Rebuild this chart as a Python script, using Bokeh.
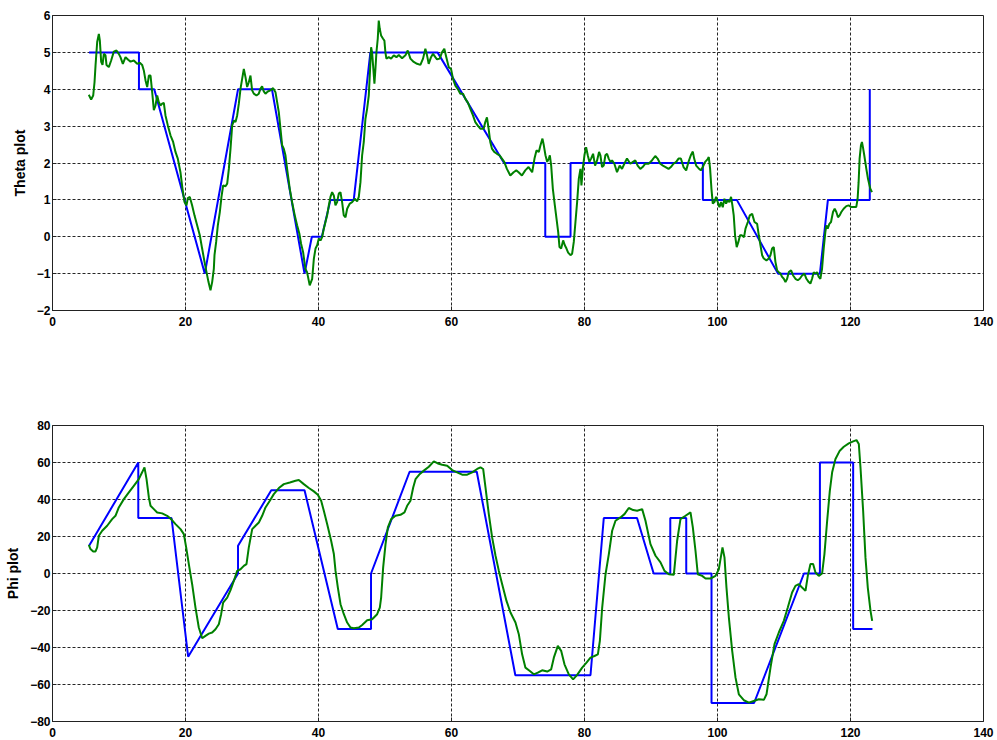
from bokeh.plotting import figure
from bokeh.layouts import column
from bokeh.models import Range1d, FixedTicker
from bokeh.embed import file_html
from bokeh.resources import INLINE

# ---------------- data ----------------
x_ticks = [0, 20, 40, 60, 80, 100, 120, 140]
theta_ticks = [-2, -1, 0, 1, 2, 3, 4, 5, 6]
phi_ticks = [-80, -60, -40, -20, 0, 20, 40, 60, 80]

# Theta reference (blue)
theta_ref_x = [5.5, 13.0, 13.0, 15.3, 22.9, 27.9, 33.0, 37.9, 39.0, 40.5, 41.8, 45.3, 47.8,
               57.9, 67.9, 74.1, 74.1, 77.9, 77.9, 97.8, 97.8, 102.9, 109.1, 115.4, 116.6,
               122.9, 122.9]
theta_ref_y = [5, 5, 4, 4, -1, 4, 4, -1, 0, 0, 1, 1, 5,
               5, 2, 2, 0, 0, 2, 2, 1, 1, -1, -1, 1,
               1, 4]

# Theta measured (green)
theta_meas_x = [5.46, 5.81, 6.12, 6.32, 6.47, 6.72, 6.97, 7.12, 7.32, 7.52, 7.72, 7.97, 8.12, 8.47,
                8.82, 9.22, 9.62, 9.97, 10.22, 10.58, 10.98, 11.38, 11.73, 12.23, 12.73, 13.13,
                13.48, 13.73, 13.99, 14.24, 14.49, 14.74, 14.99, 15.24, 15.49, 15.74, 15.99,
                16.24, 16.49, 16.74, 16.99, 17.34, 17.74, 18.14, 18.49, 18.84, 19.24, 19.55,
                19.85, 20.15, 20.35, 20.65, 21.0, 21.35, 21.75, 22.15, 22.5, 22.86, 23.16, 23.46,
                23.76, 24.01, 24.26, 24.36, 24.61, 24.86, 25.16, 25.41, 25.66, 26.02, 26.27,
                26.52, 26.77, 27.02, 27.27, 27.52, 27.77, 28.02, 28.27, 28.52, 28.77, 29.02,
                29.27, 29.52, 29.77, 30.02, 30.27, 30.67, 31.02, 31.27, 31.52, 31.77, 32.02,
                32.37, 32.78, 33.18, 33.53, 33.78, 34.03, 34.28, 34.53, 34.78, 35.03, 35.28,
                35.68, 36.03, 36.43, 36.78, 37.13, 37.38, 37.68, 38.03, 38.28, 38.68, 39.05,
                39.3, 39.55, 39.8, 40.05, 40.3, 40.55, 40.8, 41.05, 41.3, 41.55, 41.8, 42.05,
                42.3, 42.55, 42.8, 43.05, 43.3, 43.55, 43.8, 44.06, 44.31, 44.71, 45.06, 45.46,
                45.81, 46.06, 46.31, 46.56, 46.81, 47.06, 47.31, 47.56, 47.71, 47.91, 48.06,
                48.21, 48.41, 48.56, 48.71, 48.91, 49.06, 49.21, 49.41, 49.71, 49.91, 50.06,
                50.21, 50.56, 50.92, 51.32, 51.72, 52.07, 52.57, 53.07, 53.42, 53.82, 54.32,
                54.82, 55.32, 55.72, 56.07, 56.32, 56.57, 56.92, 57.22, 57.57, 57.82, 58.22,
                58.57, 58.92, 59.22, 59.58, 59.93, 60.23, 60.58, 60.93, 61.33, 61.73, 62.08,
                62.48, 62.83, 63.23, 63.58, 63.93, 64.33, 64.83, 65.08, 65.33, 65.58, 65.83,
                66.08, 66.43, 66.83, 67.23, 67.58, 67.93, 68.33, 68.84, 69.34, 69.74, 70.09,
                70.59, 71.09, 71.59, 72.13, 72.48, 72.78, 73.13, 73.38, 73.68, 73.88, 74.13,
                74.39, 74.64, 74.79, 74.99, 75.24, 75.54, 75.79, 76.04, 76.24, 76.49, 76.79,
                77.04, 77.29, 77.54, 77.89, 78.14, 78.39, 78.64, 78.89, 79.14, 79.39, 79.54,
                79.74, 79.99, 80.24, 80.49, 80.74, 80.99, 81.29, 81.59, 81.89, 82.19, 82.39,
                82.64, 82.89, 83.14, 83.39, 83.64, 83.89, 84.14, 84.49, 84.89, 85.29, 85.64,
                85.99, 86.39, 86.89, 87.29, 87.64, 87.99, 88.39, 88.74, 89.14, 89.64, 90.14,
                90.64, 90.99, 91.39, 91.79, 92.19, 92.64, 92.99, 93.39, 93.79, 94.14, 94.49,
                94.89, 95.29, 95.64, 95.99, 96.29, 96.49, 96.79, 97.14, 97.49, 97.79, 98.14,
                98.49, 98.69, 98.89, 99.09, 99.29, 99.54, 99.79, 100.04, 100.29, 100.54, 100.79,
                101.04, 101.29, 101.54, 101.79, 102.04, 102.24, 102.44, 102.64, 102.89, 103.14,
                103.39, 103.64, 103.99, 104.21, 104.56, 104.86, 105.21, 105.56, 105.96, 106.21,
                106.46, 106.71, 106.96, 107.36, 107.71, 107.96, 108.21, 108.46, 108.71, 108.96,
                109.21, 109.47, 109.72, 109.97, 110.22, 110.47, 110.72, 111.07, 111.37, 111.72,
                112.07, 112.37, 112.72, 113.07, 113.37, 113.72, 113.97, 114.22, 114.47, 114.72,
                114.97, 115.22, 115.47, 115.72, 115.97, 116.22, 116.37, 116.57, 116.82, 117.07,
                117.37, 117.62, 117.87, 118.12, 118.37, 118.62, 118.97, 119.37, 119.72, 120.07,
                120.47, 120.87, 121.07, 121.22, 121.37, 121.57, 121.72, 121.87, 122.07, 122.38,
                122.63, 122.98, 123.23]
theta_meas_y = [3.85, 3.72, 3.83, 4.19, 4.64, 5.28, 5.5, 5.32, 4.74, 4.66, 4.96, 4.92, 4.66, 4.6,
                4.78, 5.02, 5.05, 4.96, 4.87, 4.69, 4.87, 4.8, 4.75, 4.78, 4.69, 4.72,
                4.66, 4.51, 4.24, 4.06, 4.37, 4.37, 3.92, 3.43, 3.56, 3.83, 3.65,
                3.56, 3.61, 3.63, 3.29, 3.02, 2.75, 2.57, 2.3, 2.12, 1.75, 1.3,
                0.94, 0.85, 1.05, 1.08, 0.85, 0.58, 0.31, 0.04, -0.32, -0.68, -0.96, -1.23,
                -1.45, -1.23, -0.87, -0.5, -0.14, 0.31, 0.67, 1.08, 1.39, 1.37, 1.44,
                1.84, 2.39, 3.02, 3.15, 3.11, 3.29, 3.61, 4.01, 4.28, 4.55, 4.33,
                4.06, 4.19, 4.37, 3.97, 3.88, 3.83, 3.88, 4.01, 4.08, 3.94, 3.88,
                3.94, 3.97, 4.03, 3.92, 3.65, 3.38, 2.93, 2.48, 2.39, 2.21, 1.84,
                1.3, 0.94, 0.58, 0.31, 0.08, -0.19, -0.41, -0.87, -0.96, -1.32, -1.14,
                -0.6, -0.32, -0.23, -0.05, -0.1, -0.01, 0.22, 0.4, 0.58, 0.85, 1.08, 1.21,
                1.12, 0.85, 0.94, 1.17, 1.21, 0.94, 0.58, 0.53, 0.76, 0.9, 0.94, 1.03,
                0.96, 1.08, 1.48, 2.21, 2.57, 3.2, 3.47, 3.83, 4.37, 5.14, 5.0,
                4.64, 4.15, 4.55, 5.0, 5.37, 5.86, 5.64, 5.46, 5.37, 5.32, 5.0,
                4.83, 4.87, 4.83, 4.92, 4.87, 4.93, 4.84, 4.92, 5.05, 4.83, 4.74,
                4.69, 4.66, 4.83, 5.1, 4.92, 4.69, 4.87, 4.96, 4.87, 4.81, 4.83,
                5.0, 5.1, 4.87, 4.6, 4.55, 4.28, 4.1, 4.01, 3.88, 3.88, 3.74,
                3.63, 3.47, 3.29, 3.11, 3.02, 2.93, 2.93, 3.11, 3.24, 2.93, 2.57,
                2.39, 2.3, 2.25, 2.21, 2.12, 2.03, 1.84, 1.66, 1.75, 1.8, 1.75,
                1.66, 1.8, 1.89, 1.75, 2.12, 2.34, 2.3, 2.48, 2.66, 2.48, 2.21,
                2.03, 2.12, 2.21, 1.93, 1.3, 0.85, 0.49, 0.13, -0.28, -0.32, -0.1,
                -0.23, -0.32, -0.43, -0.5, -0.46, -0.14, 0.4, 0.94, 1.57, 1.84, 1.39,
                1.84, 2.21, 2.43, 2.21, 2.03, 2.12, 2.25, 1.93, 2.07, 2.3, 2.21,
                1.89, 1.93, 2.21, 2.25, 2.12, 2.03, 2.07, 1.98, 1.75, 1.93, 1.84,
                1.98, 2.12, 1.98, 2.03, 2.07, 1.93, 1.84, 1.89, 1.98, 1.98, 2.07,
                2.19, 2.12, 1.98, 1.93, 1.89, 1.84, 1.89, 1.98, 2.03, 2.12, 2.12,
                1.89, 1.8, 2.03, 2.21, 2.31, 2.12, 1.93, 1.86, 1.8, 1.89, 2.03,
                2.1, 2.16, 1.84, 1.3, 0.9, 0.94, 1.08, 0.94, 0.8, 0.94, 0.8,
                1.03, 0.9, 0.99, 0.94, 1.08, 0.85, 0.58, 0.04, -0.28, -0.14,
                0.04, 0.04, -0.01, 0.22, 0.4, 0.58, 0.62, 0.4, 0.35, 0.04,
                -0.23, -0.5, -0.59, -0.64, -0.59, -0.5, -0.32, -0.28, -0.68, -0.91,
                -0.96, -1.0, -1.09, -1.14, -1.23, -1.14, -0.96, -0.91, -1.05, -1.14,
                -1.18, -1.14, -1.05, -1.0, -1.14, -1.23, -1.27, -1.14, -0.96, -1.0,
                -0.96, -1.09, -1.14, -0.87, -0.32, 0.13, 0.31, 0.22, 0.35, 0.4,
                0.67, 0.76, 0.67, 0.53, 0.58, 0.67, 0.76, 0.83, 0.85, 0.81,
                0.81, 0.81, 1.03, 1.48, 2.12, 2.48, 2.57, 2.43, 2.21, 1.84,
                1.57, 1.3, 1.21]

# Phi reference (blue)
phi_ref_x = [5.5, 12.9, 12.9, 17.9, 20.4, 27.9, 27.9, 32.9, 37.9, 42.9, 47.9, 47.9, 53.7, 63.8,
             69.6, 80.9, 82.9, 87.9, 90.4, 92.9, 92.9, 95.3, 95.3, 99.1, 99.1, 105.5, 113.0,
             115.4, 115.4, 120.4, 120.4, 123.3]
phi_ref_y = [15, 60, 30, 30, -45, 0, 15, 45, 45, -30, -30, 0, 55, 55,
             -55, -55, 30, 30, 0, 0, 30, 30, 0, 0, -70, -70, 0,
             0, 60, 60, -30, -30]

# Phi measured (green)
phi_meas_x = [5.46, 5.71, 6.12, 6.47, 6.72, 6.97, 7.47, 8.22, 8.97, 9.47, 9.97, 10.73, 11.48,
              12.23, 12.98, 13.48, 13.83, 14.14, 14.49, 14.74, 15.24, 15.74, 16.49, 17.24,
              17.84, 18.5, 19.25, 19.75, 20.1, 20.5, 21.0, 21.5, 22.0, 22.51, 23.0, 23.51,
              24.01, 24.51, 25.01, 25.36, 25.66, 26.27, 26.77, 27.27, 27.77, 28.27, 28.77,
              29.17, 29.52, 30.03, 30.53, 31.03, 31.53, 32.03, 32.68, 33.28, 34.04, 34.79,
              35.69, 36.54, 37.04, 37.79, 38.55, 39.3, 39.9, 40.4, 40.8, 41.3, 41.9, 42.31,
              42.56, 42.91, 43.31, 43.81, 44.31, 44.81, 45.31, 46.07, 46.57, 47.32, 48.07,
              48.82, 49.22, 49.42, 49.72, 50.08, 50.43, 50.93, 51.58, 52.33, 52.93, 53.33,
              53.83, 54.24, 54.59, 55.24, 55.84, 56.59, 57.34, 57.94, 58.6, 59.35, 60.1,
              60.85, 61.6, 62.36, 63.11, 63.86, 64.36, 64.76, 65.11, 65.61, 66.11, 66.62,
              67.12, 67.62, 68.27, 68.87, 69.62, 70.12, 70.62, 71.12, 71.78, 72.38, 72.98,
              73.63, 74.39, 74.99, 75.39, 75.99, 76.49, 76.99, 77.64, 78.29, 78.9, 79.65,
              80.3, 80.9, 81.5, 82.01, 82.31, 82.66, 83.16, 83.66, 84.16, 84.66, 85.41,
              86.01, 86.66, 87.32, 87.92, 88.67, 89.17, 89.92, 90.68, 91.43, 92.03, 92.68,
              93.43, 93.93, 94.43, 95.19, 95.94, 96.29, 96.69, 97.04, 97.69, 98.2, 98.95,
              99.7, 100.2, 100.45, 100.75, 101.05, 101.35, 101.71, 102.21, 102.71, 103.21,
              103.96, 104.71, 105.46, 106.21, 106.97, 107.37, 107.97, 108.57, 109.22, 109.97,
              110.57, 111.22, 111.72, 112.22, 112.72, 113.23, 113.58, 113.98, 114.38, 114.73,
              115.23, 115.73, 116.08, 116.49, 116.89, 117.24, 117.74, 118.39, 118.99, 119.74,
              120.4, 120.9, 121.25, 121.5, 121.9, 122.25, 122.6, 123.01, 123.26]
phi_meas_y = [15.5, 13.2, 11.9, 11.9, 14.1, 20.4, 23.1, 25.8, 29.4, 31.2, 35.7, 40.2, 43.8,
              47.4, 51.0, 54.7, 57.4, 51.0, 41.1, 36.6, 34.8, 33.0, 32.5, 31.2,
              29.4, 26.7, 24.0, 21.3, 14.1, 5.1, -5.8, -18.4, -29.2, -35.0, -33.7, -32.5,
              -31.9, -30.1, -27.4, -22.0, -15.7, -13.0, -9.0, -4.0, 1.4, 2.3, 4.1,
              5.1, 14.1, 24.0, 25.8, 27.6, 31.2, 35.7, 39.3, 42.9, 46.2, 48.3,
              49.2, 50.1, 50.5, 48.3, 46.2, 44.4, 42.6, 39.3, 33.9, 26.7, 17.7, 10.5,
              1.4, -7.6, -16.6, -22.0, -26.5, -29.2, -29.6, -29.2, -27.8, -25.3, -24.7,
              -22.0, -18.4, -13.0, 3.2, 15.9, 24.9, 29.4, 31.2, 31.7, 33.0, 36.6,
              39.3, 46.5, 51.0, 53.8, 55.6, 57.7, 60.6, 59.5, 58.8, 58.3, 55.9,
              54.7, 53.4, 53.4, 54.7, 56.5, 57.4, 56.5, 46.5, 32.1, 19.5, 9.6,
              1.4, -5.8, -14.8, -21.1, -26.5, -32.8, -43.7, -50.9, -52.7, -54.5, -53.6,
              -52.3, -53.0, -51.8, -45.5, -39.1, -41.8, -49.1, -54.5, -57.2, -54.8, -50.9,
              -48.2, -45.5, -44.6, -43.7, -36.4, -18.4, -0.4, 10.5, 23.1, 28.5, 30.3,
              32.1, 35.4, 34.3, 33.9, 34.8, 28.5, 15.9, 9.6, 6.0, 1.4, -0.4,
              -0.7, 17.7, 29.4, 31.2, 33.0, 24.9, 12.3, -0.4, -1.3, -2.7, -2.7,
              -1.3, 2.3, 7.8, 14.1, 8.7, -7.6, -23.8, -41.8, -56.3, -65.3,
              -68.5, -69.8, -68.9, -68.0, -68.3, -65.3, -50.9, -38.2, -31.9, -25.6,
              -18.4, -10.3, -6.7, -5.8, -7.6, -9.4, -1.3, 5.1, 5.1, 0.5,
              -1.3, 0.0, 10.5, 28.5, 44.7, 54.7, 61.9, 66.4, 68.5, 70.3,
              71.4, 72.1, 70.0, 57.4, 33.9, 8.7, -7.6, -20.2, -25.6]

BLUE = "#0000FF"
GREEN = "#008000"
FONT = "Liberation Sans"


def make_fig(y_lo, y_hi, yticks, ylabel, fh, top, bottom):
    p = figure(frame_width=931, frame_height=fh,
               x_range=Range1d(0, 140), y_range=Range1d(y_lo, y_hi),
               output_backend="svg", toolbar_location=None,
               min_border_left=52, min_border_right=12,
               min_border_top=top, min_border_bottom=bottom,
               background_fill_color="white", border_fill_color="white")
    p.outline_line_color = "#222222"
    p.outline_line_width = 1
    p.xaxis.ticker = FixedTicker(ticks=x_ticks)
    p.yaxis.ticker = FixedTicker(ticks=yticks)
    for ax in (p.xaxis[0], p.yaxis[0]):
        ax.major_label_text_font = FONT
        ax.major_label_text_font_style = "bold"
        ax.major_label_text_font_size = "12px"
        ax.major_label_text_color = "black"
        ax.major_tick_in = 4
        ax.major_tick_out = 0
        ax.minor_tick_in = 0
        ax.minor_tick_out = 0
        ax.axis_line_color = "#222222"
        ax.major_tick_line_color = "#222222"
    p.xaxis.major_label_standoff = 6
    p.yaxis.major_label_standoff = 2
    p.yaxis.axis_label = ylabel
    p.yaxis.axis_label_text_font = FONT
    p.yaxis.axis_label_text_font_style = "bold"
    p.yaxis.axis_label_text_font_size = "14px"
    p.yaxis.axis_label_text_color = "black"
    p.yaxis.axis_label_standoff = 6
    for g in (p.xgrid[0], p.ygrid[0]):
        g.grid_line_color = "black"
        g.grid_line_alpha = 0.85
        g.grid_line_width = 1
        g.grid_line_dash = "3 2"
    p.xgrid.ticker = FixedTicker(ticks=x_ticks)
    p.ygrid.ticker = FixedTicker(ticks=yticks)
    return p


p1 = make_fig(-2, 6, theta_ticks, "Theta plot", 295, 15, 55)
p1.line(theta_ref_x, theta_ref_y, line_color=BLUE, line_width=2)
p1.line(theta_meas_x, theta_meas_y, line_color=GREEN, line_width=2)

p2 = make_fig(-80, 80, phi_ticks, "Phi plot", 296, 60, 19)
p2.line(phi_ref_x, phi_ref_y, line_color=BLUE, line_width=2)
p2.line(phi_meas_x, phi_meas_y, line_color=GREEN, line_width=2)

layout = column(p1, p2, spacing=0)
open("out.html", "w").write(file_html(layout, INLINE))
